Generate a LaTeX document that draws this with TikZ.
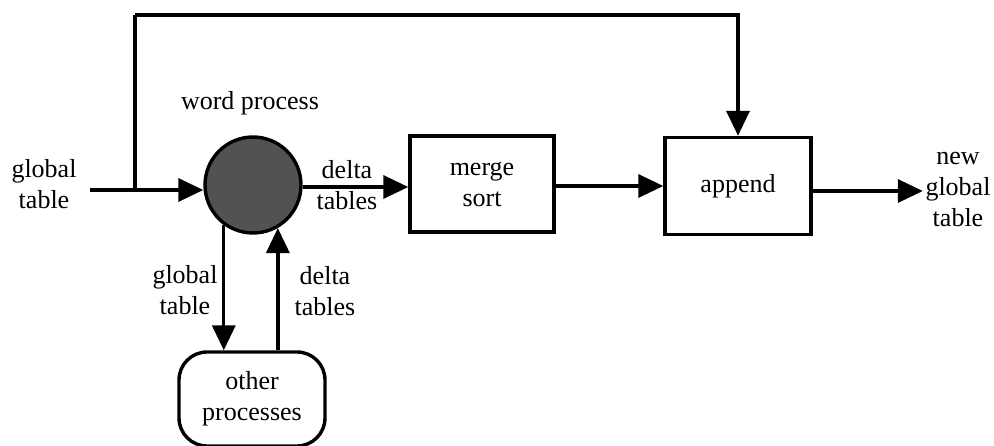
\documentclass[tikz,border=0pt]{standalone}
\usepackage{fontspec}
\setmainfont{Liberation Serif}
\usetikzlibrary{arrows.meta}
\begin{document}
\begin{tikzpicture}[x=1pt,y=-1pt,
  line width=3.4pt,
  arr/.style={-{Triangle[length=25pt,width=23pt]}},
  lbl/.style={font=\fontsize{26}{31}\selectfont, align=center, inner sep=1pt},
  boxx/.style={draw, rectangle, line width=3.4pt},
]
\useasboundingbox (0,0) rectangle (994,446);
\node[draw, circle, fill=black!68, minimum size=96pt, inner sep=0pt] (wp) at (253,185) {};
\node[boxx, minimum width=144pt, minimum height=96pt, lbl] (ms) at (482,184) {merge\\sort};
\node[boxx, minimum width=146pt, minimum height=97pt, lbl] (ap) at (738,186) {append};
\node[boxx, rounded corners=28pt, minimum width=146pt, minimum height=94pt, lbl] (op) at (252,399) {other\\processes};
\node[lbl, anchor=base] (wpl) at (250,110) {word process};
\node[lbl, anchor=base] (gin) at (44,209) {global\\table};
\node[lbl, anchor=base] (gout) at (958,227) {new\\global\\table};
\node[lbl, anchor=base] (dt1) at (347,210) {delta\\tables};
\node[lbl, anchor=base] (gt2) at (185,315) {global\\table};
\node[lbl, anchor=base] (dt2) at (325,316) {delta\\tables};
\coordinate (in) at (90,190);
\coordinate (br) at (135,190);
\coordinate (top) at (135,15);
\draw[arr] (in) -- (wp.west |- in);
\draw (br) -- (top);
\draw[arr] (top) -| (ap.north);
\draw[arr] (wp.east |- 0,187) -- (ms.west |- 0,187);
\draw[arr] (ms.east |- ap.west) -- (ap.west);
\draw[arr] (ap.east |- 0,191) -- (gout.west |- 0,191);
\draw[arr] (wp.-126) -- (wp.-126 |- op.north);
\draw[arr] (wp.-60 |- op.north) -- (wp.-60);
\end{tikzpicture}
\end{document}
